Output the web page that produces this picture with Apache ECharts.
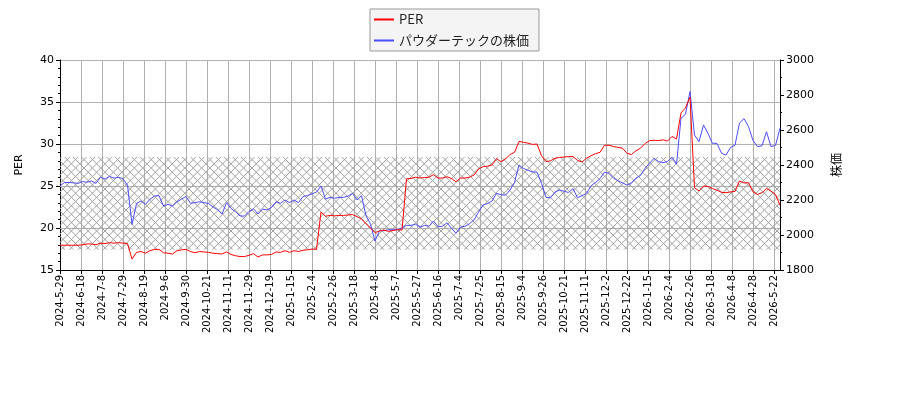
<!DOCTYPE html>
<html>
<head>
<meta charset="utf-8">
<script src="https://cdn.jsdelivr.net/npm/echarts/dist/echarts.min.js"></script>
<style>
  html, body { margin: 0; padding: 0; background: #fff; }
  #chart { width: 900px; height: 400px; }
</style>
</head>
<body>
<div id="chart"></div>
<script>
// tick labels every 14 trading days
const tickLabels = ['2024-5-29','2024-6-18','2024-7-8','2024-7-29','2024-8-19','2024-9-6','2024-9-30','2024-10-21','2024-11-11','2024-11-29','2024-12-19','2025-1-15','2025-2-4','2025-2-26','2025-3-18','2025-4-8','2025-5-7','2025-5-27','2025-6-16','2025-7-4','2025-7-25','2025-8-15','2025-9-4','2025-9-26','2025-10-21','2025-11-11','2025-12-2','2025-12-22','2026-1-15','2026-2-4','2026-2-26','2026-3-18','2026-4-8','2026-4-28','2026-5-22']
const tradingDays = 481
const labelEvery = 14
const sampleStep = 3   // values read every 3rd trading day

const perValues = [
  17.95,17.95,17.95,17.95,17.95,18.0,18.1,18.1,18.0,18.2,
  18.15,18.25,18.2,18.25,18.2,18.15,16.3,17.1,17.2,17.0,
  17.3,17.45,17.45,17.05,17.0,16.9,17.3,17.4,17.45,17.2,
  17.05,17.2,17.15,17.1,17.0,16.95,16.9,17.15,16.85,16.7,
  16.6,16.6,16.75,16.95,16.55,16.8,16.8,16.85,17.15,17.1,
  17.3,17.1,17.3,17.2,17.35,17.4,17.5,17.45,21.9,21.4,
  21.5,21.45,21.5,21.5,21.55,21.6,21.35,21.1,20.5,20.0,
  19.45,19.65,19.75,19.6,19.7,19.8,19.75,25.85,25.9,26.05,
  25.95,26.0,26.05,26.35,25.95,25.95,26.1,25.9,25.5,25.95,
  25.95,26.05,26.3,27.0,27.3,27.35,27.5,28.25,27.9,28.2,
  28.75,29.0,30.3,30.2,30.1,29.95,30.0,28.6,27.9,28.0,
  28.3,28.4,28.45,28.5,28.5,28.05,27.85,28.3,28.6,28.85,
  29.0,29.85,29.85,29.7,29.6,29.5,28.9,28.75,29.2,29.5,
  30.05,30.4,30.45,30.4,30.5,30.35,30.9,30.6,33.7,34.3,
  35.6,24.8,24.4,25.0,24.95,24.7,24.5,24.25,24.2,24.3,
  24.35,25.6,25.35,25.4,24.3,24.0,24.2,24.7,24.4,24.0,
  22.7
]

const priceValues = [
  2280,2300,2300,2298,2295,2305,2302,2308,2295,2330,
  2320,2335,2325,2330,2322,2285,2060,2180,2195,2175,
  2205,2223,2225,2165,2175,2165,2190,2205,2220,2181,
  2185,2190,2185,2180,2160,2145,2120,2185,2152,2133,
  2109,2108,2135,2150,2120,2148,2143,2158,2190,2181,
  2200,2185,2200,2185,2220,2225,2235,2245,2280,2205,
  2215,2210,2215,2215,2222,2238,2200,2225,2110,2062,
  1965,2025,2025,2030,2030,2030,2040,2055,2055,2062,
  2045,2055,2050,2080,2048,2050,2070,2038,2010,2045,
  2050,2065,2086,2130,2171,2180,2194,2238,2230,2228,
  2257,2300,2400,2380,2370,2360,2360,2295,2215,2213,
  2245,2257,2250,2243,2265,2213,2225,2238,2281,2300,
  2322,2360,2352,2325,2310,2298,2285,2298,2325,2340,
  2381,2410,2438,2420,2413,2420,2445,2405,2667,2690,
  2820,2571,2533,2629,2580,2524,2524,2467,2457,2500,
  2514,2640,2665,2620,2540,2505,2510,2590,2505,2512,
  2610
]

// PER band shown hatched
const perBand = [17.4, 28.45]

function makeHatch(){
    const size = 42
    const gap = 8.4
    const c = document.createElement('canvas')
    c.width = size
    c.height = size
    const ctx = c.getContext('2d')
    ctx.strokeStyle = '#a0a0a0'
    ctx.lineWidth = 1
    ctx.beginPath()
    for(let i = -5; i <= 10; i++){
        const t = i * gap
        ctx.moveTo(t, 0)
        ctx.lineTo(t + size, size)
        ctx.moveTo(t, size)
        ctx.lineTo(t + size, 0)
    }
    ctx.stroke()
    return c
}

const categories = []
for(let i = 0; i < tradingDays; i++){
    categories.push(i % labelEvery === 0 ? tickLabels[i / labelEvery] : 'd' + i)
}

const font = 'DejaVu Sans'
const gridColor = '#b0b0b0'

const option = {
    animation: false,
    legend: {
        orient: 'vertical',
        left: 370,
        top: 9,
        padding: [4, 10, 4, 4],
        itemWidth: 20,
        itemHeight: 2,
        itemGap: 8,
        icon: 'rect',
        backgroundColor: '#f4f4f4',
        borderColor: '#999',
        borderWidth: 1,
        borderRadius: 0,
        textStyle: { fontFamily: 'Noto Sans CJK JP', fontSize: 13, color: '#222' },
        data: ['PER', 'パウダーテックの株価']
    },
    grid: { left: 60, right: 120, top: 60, bottom: 130 },
    xAxis: {
        type: 'category',
        data: categories,
        boundaryGap: false,
        axisLine: { lineStyle: { color: '#000' } },
        axisTick: { interval: labelEvery - 1, length: 4, lineStyle: { color: '#000' } },
        axisLabel: { interval: labelEvery - 1, rotate: 90, fontFamily: font, fontSize: 10, color: '#000', margin: 5 },
        splitLine: { show: true, interval: labelEvery - 1, lineStyle: { color: gridColor } }
    },
    yAxis: [
        {
            type: 'value',
            min: 15, max: 40, interval: 5,
            name: 'PER',
            nameLocation: 'middle',
            nameGap: 35,
            nameRotate: 90,
            nameTextStyle: { fontFamily: font, fontSize: 11, color: '#000' },
            axisLine: { show: true, lineStyle: { color: '#000' } },
            axisTick: { show: true, length: 4, lineStyle: { color: '#000' } },
            minorTick: { show: true, splitNumber: 5, length: 2, lineStyle: { color: '#000' } },
            axisLabel: { fontFamily: font, fontSize: 11, color: '#000', margin: 6 },
            splitLine: { show: true, lineStyle: { color: gridColor } }
        },
        {
            type: 'value',
            min: 1800, max: 3000, interval: 200,
            position: 'right',
            name: '株価',
            nameLocation: 'middle',
            nameGap: 50,
            nameRotate: 90,
            nameTextStyle: { fontFamily: 'Noto Sans CJK JP', fontSize: 12, color: '#000' },
            axisLine: { show: true, lineStyle: { color: '#000' } },
            axisTick: { show: true, length: 4, lineStyle: { color: '#000' } },
            minorTick: { show: true, splitNumber: 2, length: 2, lineStyle: { color: '#000' } },
            axisLabel: { fontFamily: font, fontSize: 11, color: '#000', margin: 6, formatter: (v) => String(v) },
            splitLine: { show: false }
        }
    ],
    series: [
        {
            name: 'PER',
            type: 'line',
            yAxisIndex: 0,
            symbol: 'none',
            color: '#ff0000',
            lineStyle: { width: 1, color: '#ff0000' },
            data: perValues.map((v, k) => [k * sampleStep, v]),
            markArea: {
                silent: true,
                itemStyle: { color: { image: makeHatch(), repeat: 'repeat' }, borderWidth: 0 },
                data: [[{ yAxis: perBand[0] }, { yAxis: perBand[1] }]]
            },
            z: 3
        },
        {
            name: 'パウダーテックの株価',
            type: 'line',
            yAxisIndex: 1,
            symbol: 'none',
            color: '#4b4bff',
            lineStyle: { width: 1, color: '#4b4bff' },
            data: priceValues.map((v, k) => [k * sampleStep, v]),
            z: 2
        }
    ]
}

const chart = echarts.init(document.getElementById('chart'))
chart.setOption(option)
</script>
</body>
</html>
